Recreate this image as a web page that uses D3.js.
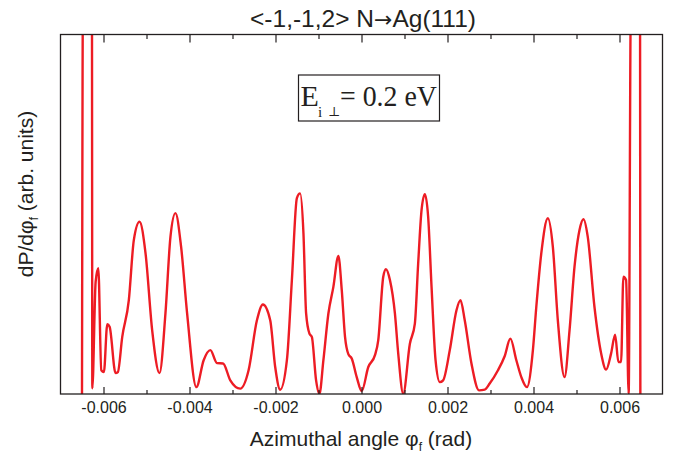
<!DOCTYPE html>
<html><head><meta charset="utf-8">
<script src="https://cdn.jsdelivr.net/npm/d3@7"></script>
<style>body{margin:0;background:#fff;} svg{display:block;}</style>
</head><body>
<svg id="c" width="674" height="457"></svg>
<script>
// Azimuthal angle (rad)
const phi = [
 -0.006500,-0.006478,-0.006269,-0.006260,-0.006183,-0.006121,-0.006051,-0.005991,-0.005912,-0.005858,
 -0.005719,-0.005666,-0.005564,-0.005411,-0.005295,-0.005162,-0.005023,-0.004868,-0.004698,-0.004559,
 -0.004443,-0.004327,-0.004195,-0.004056,-0.003840,-0.003671,-0.003515,-0.003360,-0.003220,-0.003051,
 -0.002819,-0.002626,-0.002432,-0.002292,-0.002123,-0.002007,-0.001891,-0.001735,-0.001619,-0.001503,
 -0.001427,-0.001350,-0.001288,-0.001211,-0.001155,-0.001056,-0.000979,-0.000886,-0.000770,-0.000654,
 -0.000538,-0.000459,-0.000383,-0.000306,-0.000227,-0.000111, 0.000005, 0.000158, 0.000313, 0.000390,
  0.000506, 0.000568, 0.000661, 0.000777, 0.000854, 0.000970, 0.001125, 0.001241, 0.001318, 0.001397,
  0.001473, 0.001550, 0.001629, 0.001722, 0.001821, 0.001898, 0.002053, 0.002209, 0.002302, 0.002401,
  0.002557, 0.002733, 0.002865, 0.002981, 0.003174, 0.003329, 0.003462, 0.003601, 0.003717, 0.003847,
  0.003986, 0.004065, 0.004181, 0.004334, 0.004450, 0.004566, 0.004722, 0.004838, 0.004954, 0.005070,
  0.005162, 0.005262, 0.005418, 0.005573, 0.005689, 0.005805, 0.005898, 0.005974, 0.006037, 0.006090,
  0.006153, 0.006213, 0.006265, 0.006478, 0.006485
];
// dP/dphi_f (arb. units)
const dPdphi = [
   0.0, 110.0, 110.0,   1.6,  31.2,  35.0,   6.6,   6.1,  19.4,  18.7,
   5.8,   6.1,  15.9,  26.1,  42.8,  47.9,  39.2,  17.7,   5.8,  22.5,
  43.7,  50.3,  40.9,  22.5,   1.9,   9.4,  12.2,   8.6,   8.5,   3.8,
   1.5,   6.6,  20.5,  24.9,  20.5,   7.5,   1.2,   9.4,  31.7,  54.5,
  55.8,  44.7,  22.4,  16.8,  15.9,   3.8,   0.0,   9.4,  22.4,  29.8,
  38.4,  28.9,  15.9,  11.1,   9.9,   4.7,   0.8,   7.5,  10.8,  15.0,
  32.6,  34.7,  31.7,  22.4,  11.3,   0.1,  14.0,  19.6,  36.3,  51.2,
  55.6,  49.3,  29.8,   9.4,   3.3,   3.8,  12.2,  23.3,  26.1,  20.5,
   8.5,   1.0,   1.2,   2.9,   6.6,  10.5,  15.4,   9.4,   4.7,   1.9,
  12.2,  24.2,  39.1,  48.9,  40.9,  20.5,   4.7,  17.7,  35.4,  45.6,
  48.6,  43.7,  24.2,  11.3,   6.8,  11.3,  16.5,   8.9,   8.9,  32.6,
  31.7,   0.1, 110.0, 110.0,   0.0
];
const majorTicks = [-0.006,-0.004,-0.002,0.000,0.002,0.004,0.006];
const minorTicks = [-0.005,-0.003,-0.001,0.001,0.003,0.005];
const tickLabels = ["-0.006","-0.004","-0.002","0.000","0.002","0.004","0.006"];
const titleParts = ["<-1,-1,2> N", "\u2192", "Ag(111)"];

const svg = d3.select("#c");
const L = 60.5, R = 662.5, T = 34.5, B = 394;
const x = d3.scaleLinear().domain([-0.007, 0.007]).range([L, R]);
const y = d3.scaleLinear().domain([0, 100]).range([B, T]);
const sans = "'Liberation Sans', Arial, Helvetica, sans-serif";
const axisColor = "#231f20";

svg.append("clipPath").attr("id","clip").append("rect")
  .attr("x", L).attr("y", T).attr("width", R - L).attr("height", B - T);

const pts = phi.map((p, i) => [p, dPdphi[i]]);
const line = d3.line().x(d => x(d[0])).y(d => y(d[1])).curve(d3.curveMonotoneX);
svg.append("path").datum(pts)
  .attr("clip-path","url(#clip)")
  .attr("d", line).attr("fill","none")
  .attr("stroke","#ed1c24").attr("stroke-width",2.4)
  .attr("stroke-linejoin","round");

// axes
function styleAxis(g){
  g.select(".domain").remove();
  g.selectAll(".tick line").attr("stroke", axisColor).attr("stroke-width",1.2);
  g.selectAll("text").attr("fill","#231f20").attr("font-family",sans).attr("font-size",16);
}
const fmt = d => tickLabels[majorTicks.indexOf(d)] || "";
svg.append("g").attr("transform",`translate(0,${B})`)
  .call(d3.axisBottom(x).tickValues(majorTicks).tickSizeInner(-7).tickSizeOuter(0).tickPadding(8).tickFormat(fmt))
  .call(styleAxis);
svg.append("g").attr("transform",`translate(0,${B})`)
  .call(d3.axisBottom(x).tickValues(minorTicks).tickSizeInner(-4).tickSizeOuter(0).tickFormat(""))
  .call(styleAxis);
svg.append("g").attr("transform",`translate(0,${T})`)
  .call(d3.axisTop(x).tickValues(majorTicks).tickSizeInner(-8).tickSizeOuter(0).tickFormat(""))
  .call(styleAxis);
svg.append("g").attr("transform",`translate(0,${T})`)
  .call(d3.axisTop(x).tickValues(minorTicks).tickSizeInner(-4.5).tickSizeOuter(0).tickFormat(""))
  .call(styleAxis);

svg.append("rect").attr("x",L).attr("y",T).attr("width",R-L).attr("height",B-T)
  .attr("fill","none").attr("stroke",axisColor).attr("stroke-width",1.3);

// title
const tt = svg.append("text").attr("x", 363).attr("y", 27).attr("text-anchor","middle")
  .attr("font-family",sans).attr("font-size",24.5).attr("fill","#231f20");
tt.append("tspan").text(titleParts[0]);
tt.append("tspan").attr("font-family","'DejaVu Sans', sans-serif").attr("font-size",22).text(titleParts[1]);
tt.append("tspan").text(titleParts[2]);

// x label
const xl = svg.append("text").attr("x", 361).attr("y", 446).attr("text-anchor","middle")
  .attr("font-family",sans).attr("font-size",21).attr("fill","#231f20");
xl.append("tspan").text("Azimuthal angle \u03c6");
xl.append("tspan").attr("font-size",12).attr("dy",5).text("f");
xl.append("tspan").attr("dy",-5).text(" (rad)");

// y label
const yl = svg.append("text").attr("transform","translate(33,194) rotate(-90)")
  .attr("text-anchor","middle").attr("font-family",sans).attr("font-size",21).attr("fill","#231f20");
yl.append("tspan").text("dP/d\u03c6");
yl.append("tspan").attr("font-size",12).attr("dy",5).text("f");
yl.append("tspan").attr("dy",-5).text(" (arb. units)");

// annotation box
const serif = "'Liberation Serif', 'Times New Roman', serif";
svg.append("rect").attr("x",298.5).attr("y",75).attr("width",141).attr("height",46)
  .attr("fill","#fff").attr("stroke",axisColor).attr("stroke-width",1.2);
svg.append("text").attr("x",300.5).attr("y",106).attr("font-family",serif).attr("font-size",30)
  .attr("fill","#231f20").text("E");
svg.append("text").attr("x",318).attr("y",117).attr("font-family",serif).attr("font-size",15)
  .attr("fill","#231f20").text("i");
svg.append("text").attr("x",328).attr("y",116).attr("font-family","'DejaVu Serif', serif").attr("font-size",13)
  .attr("fill","#231f20").text("\u22a5");
svg.append("text").attr("x",340).attr("y",106).attr("font-family",serif).attr("font-size",30)
  .attr("textLength",97).attr("lengthAdjust","spacingAndGlyphs")
  .attr("fill","#231f20").text("= 0.2 eV");
</script>
</body></html>
